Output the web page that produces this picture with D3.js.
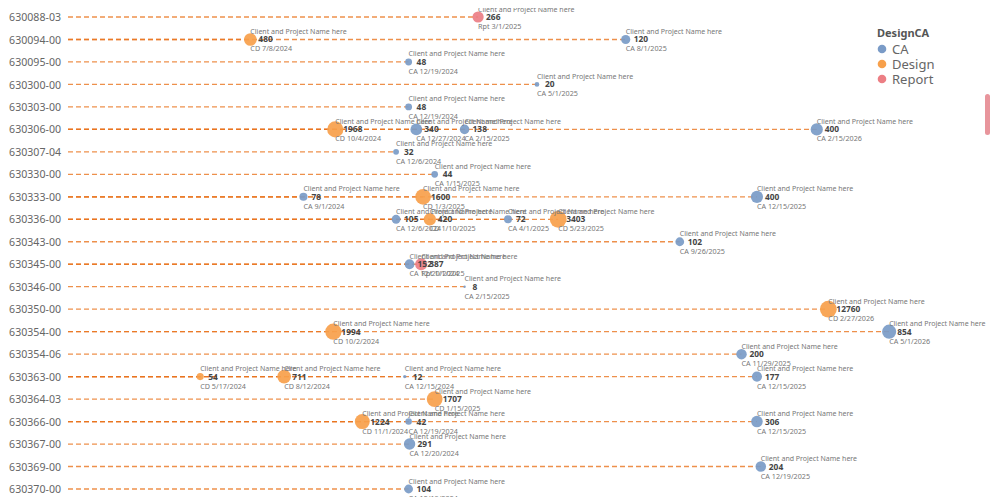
<!DOCTYPE html>
<html>
<head>
<meta charset="utf-8">
<script src="https://cdn.jsdelivr.net/npm/d3@7"></script>
<style>
  html, body { margin: 0; padding: 0; background: #fff; }
  svg { display: block; }
</style>
</head>
<body>
<svg id="chart" width="1000" height="497"></svg>
<script>
// ---------- DATA ----------
const projects = ["630088-03","630094-00","630095-00","630300-00","630303-00","630306-00","630307-04",
  "630330-00","630333-00","630336-00","630343-00","630345-00","630346-00","630350-00","630354-00",
  "630354-06","630363-00","630364-03","630366-00","630367-00","630369-00","630370-00"];

const legendTitle = "DesignCA";
const phaseNames = ["CA", "Design", "Report"];
const phasePrefix = ["CA", "CD", "Rpt"];
const phaseColors = ["#7A9BC7", "#F7A04B", "#EC7E84"];

const clientLabel = "Client and Project Name here";

const pointProject = ["630088-03","630094-00","630094-00","630095-00","630300-00","630303-00",
  "630306-00","630306-00","630306-00","630306-00","630307-04","630330-00",
  "630333-00","630333-00","630333-00","630336-00","630336-00","630336-00","630336-00",
  "630343-00","630345-00","630345-00","630346-00","630350-00","630354-00","630354-00",
  "630354-06","630363-00","630363-00","630363-00","630363-00","630364-03",
  "630366-00","630366-00","630366-00","630367-00","630369-00","630370-00"];
const pointPhase = ["Report","Design","CA","CA","CA","CA",
  "Design","CA","CA","CA","CA","CA",
  "CA","Design","CA","CA","Design","CA","Design",
  "CA","CA","Report","CA","Design","Design","CA",
  "CA","Design","Design","CA","CA","Design",
  "Design","CA","CA","CA","CA","CA"];
const pointDate = ["3/1/2025","7/8/2024","8/1/2025","12/19/2024","5/1/2025","12/19/2024",
  "10/4/2024","12/27/2024","2/15/2025","2/15/2026","12/6/2024","1/15/2025",
  "9/1/2024","1/3/2025","12/15/2025","12/6/2024","1/10/2025","4/1/2025","5/23/2025",
  "9/26/2025","12/20/2024","1/1/2025","2/15/2025","2/27/2026","10/2/2024","5/1/2026",
  "11/29/2025","5/17/2024","8/12/2024","12/15/2024","12/15/2025","1/15/2025",
  "11/1/2024","12/19/2024","12/15/2025","12/20/2024","12/19/2025","12/19/2024"];
const pointValue = [266,480,120,48,20,48,
  1968,340,138,400,32,44,
  78,1600,400,105,420,72,3403,
  102,152,387,8,12760,1994,854,
  200,54,711,12,177,1707,
  1224,42,306,291,204,104];

const dateDomain = ["1/1/2024", "7/1/2026"];

// ---------- BUILD ----------
const parse = d3.timeParse("%m/%d/%Y");
const points = pointProject.map((p, i) => ({
  project: p, phase: pointPhase[i], dateText: pointDate[i],
  date: parse(pointDate[i]), value: pointValue[i]
}));

const svg = d3.select("#chart");
const W = 1000, H = 497;

const x = d3.scaleTime().domain(dateDomain.map(parse)).range([68, 948]);
const y = d3.scalePoint().domain(projects).range([17, 489]);
const r = d3.scaleLog().domain([8, 2500]).range([1.2, 8.4]).clamp(true);
const color = d3.scaleOrdinal().domain(phaseNames).range(phaseColors);
const prefix = d3.scaleOrdinal().domain(phaseNames).range(phasePrefix);

const font = "'Segoe UI', 'Noto Sans', 'Open Sans', sans-serif";

// clip
svg.append("defs").append("clipPath").attr("id", "plotClip")
  .append("rect").attr("x", 62).attr("y", 8).attr("width", W - 62).attr("height", H - 8);

// y axis
const yAxis = d3.axisLeft(y).tickSize(0).tickPadding(0);
const gy = svg.append("g").attr("transform", "translate(61,0)").call(yAxis);
gy.select(".domain").remove();
gy.selectAll("text")
  .attr("font-family", font).attr("font-size", 10.6).attr("fill", "#666")
  .attr("dy", "0.34em");

const plot = svg.append("g").attr("clip-path", "url(#plotClip)");

// lines (one per point)
plot.append("g").selectAll("line").data(points).join("line")
  .attr("x1", x.range()[0]).attr("x2", d => x(d.date))
  .attr("y1", d => y(d.project)).attr("y2", d => y(d.project))
  .attr("stroke", "#E8741E").attr("stroke-opacity", 0.8)
  .attr("stroke-width", 1.3).attr("stroke-dasharray", "5,3");

// dots
plot.append("g").selectAll("circle").data(points).join("circle")
  .attr("cx", d => x(d.date)).attr("cy", d => y(d.project))
  .attr("r", d => r(d.value))
  .attr("fill", d => color(d.phase)).attr("fill-opacity", 0.92);

// labels
const lab = plot.append("g").attr("font-family", font);
lab.selectAll("text.name").data(points).join("text").attr("class", "name")
  .attr("x", d => x(d.date)).attr("y", d => y(d.project) - 5.5)
  .attr("font-size", 7).attr("fill", "#777").text(clientLabel);
lab.selectAll("text.val").data(points).join("text").attr("class", "val")
  .attr("x", d => x(d.date) + 8).attr("y", d => y(d.project) + 3)
  .attr("font-size", 8.4).attr("font-weight", "bold").attr("fill", "#444")
  .text(d => d.value);
lab.selectAll("text.date").data(points).join("text").attr("class", "date")
  .attr("x", d => x(d.date)).attr("y", d => y(d.project) + 12)
  .attr("font-size", 7.2).attr("fill", "#777")
  .text(d => prefix(d.phase) + " " + d.dateText);

// legend
const lg = svg.append("g").attr("font-family", font);
lg.append("text").attr("x", 877).attr("y", 37).attr("font-size", 11)
  .attr("font-weight", "bold").attr("fill", "#555").text(legendTitle);
const li = lg.selectAll("g.item").data(phaseNames).join("g").attr("class", "item")
  .attr("transform", (d, i) => `translate(882,${49 + i * 15})`);
li.append("circle").attr("r", 4.3).attr("fill", d => color(d));
li.append("text").attr("x", 10).attr("dy", "0.36em").attr("font-size", 13)
  .attr("fill", "#666").text(d => d);

// scrollbar
svg.append("rect").attr("x", 985).attr("y", 94).attr("width", 5).attr("height", 41)
  .attr("rx", 2.5).attr("fill", "#E8959C");
</script>
</body>
</html>
